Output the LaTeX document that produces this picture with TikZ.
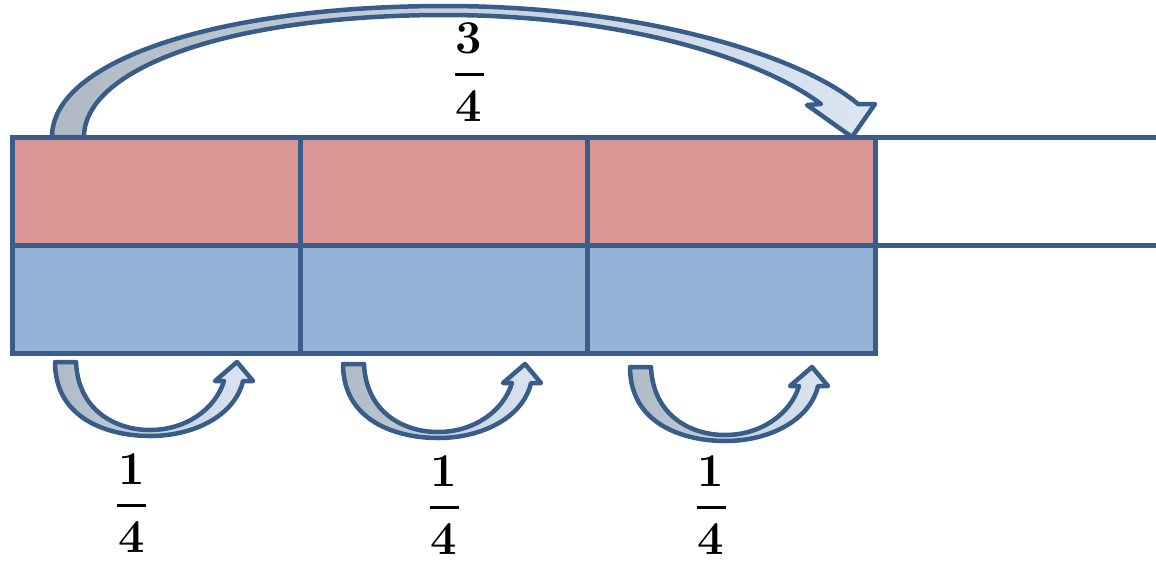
\documentclass[tikz,border=0pt]{standalone}
\definecolor{edge}{HTML}{385D8A}
\definecolor{redfill}{HTML}{D99694}
\definecolor{bluefill}{HTML}{95B3D7}
\definecolor{arrowgray}{HTML}{B0BAC5}
\definecolor{arrowlight}{HTML}{DCE6F2}
\newcommand\stackfrac[2]{#1\\[-24pt]\rule{29pt}{3pt}\\[-2pt]#2}
\begin{document}
\begin{tikzpicture}[x=1pt,y=-1pt,
  cell/.style={draw=edge, line width=5pt, rectangle, minimum width=287.67pt,
    minimum height=108pt, inner sep=0pt, outer sep=0pt, anchor=north west},
  redcell/.style={cell, fill=redfill},
  bluecell/.style={cell, fill=bluefill},
  edgeline/.style={draw=edge, line width=5pt},
  curvedarrow/.style={draw=edge, line width=4.5pt, line join=round,
    left color=arrowgray, right color=arrowlight},
  fraclabel/.style={align=center, font=\fontsize{47}{47}\selectfont\bfseries, inner sep=0pt},
  smallarrow/.pic={
    \path[curvedarrow] (55,362) -- (76,362)
      .. controls (78,410) and (115,430) .. (150,430)
      .. controls (185,430) and (215,410) .. (224,381)
      -- (215,381) -- (237,362) -- (253,381) -- (243,381)
      .. controls (235,415) and (195,436) .. (150,436)
      .. controls (110,436) and (55,420) .. (55,362) -- cycle;
  }]
\useasboundingbox (0,0) rectangle (1156,563);

% big arrow
\path[curvedarrow] (52,137)
  .. controls (52,60) and (220,6) .. (445,6)
  .. controls (640,6) and (800,55) .. (858,104)
  -- (875,104) -- (852,137) -- (807,105) -- (821,104)
  .. controls (760,58) and (620,15) .. (445,15)
  .. controls (230,15) and (84,68) .. (84,137) -- cycle;

% small arrows
\pic at (0,0) {smallarrow};
\pic at (288,2) {smallarrow};
\pic at (575,5) {smallarrow};

% cells
\node[redcell] (r1) at (12.5,137.5) {};
\node[redcell] (r2) at (r1.north east) {};
\node[redcell] (r3) at (r2.north east) {};
\node[bluecell] (b1) at (r1.south west) {};
\node[bluecell] (b2) at (b1.north east) {};
\node[bluecell] (b3) at (b2.north east) {};

\coordinate (e1) at (1160,137.5);
\coordinate (e2) at (1160,245.5);
\draw[edgeline] (r3.north east) -- (e1);
\draw[edgeline] (r3.south east) -- (e2);

% labels
\node[fraclabel] (l0) at (469,72) {\stackfrac{3}{4}};
\node[fraclabel] (l1) at (131.5,503) {\stackfrac{1}{4}};
\node[fraclabel] (l2) at (444,505) {\stackfrac{1}{4}};
\node[fraclabel] (l3) at (711,505) {\stackfrac{1}{4}};
\end{tikzpicture}
\end{document}
